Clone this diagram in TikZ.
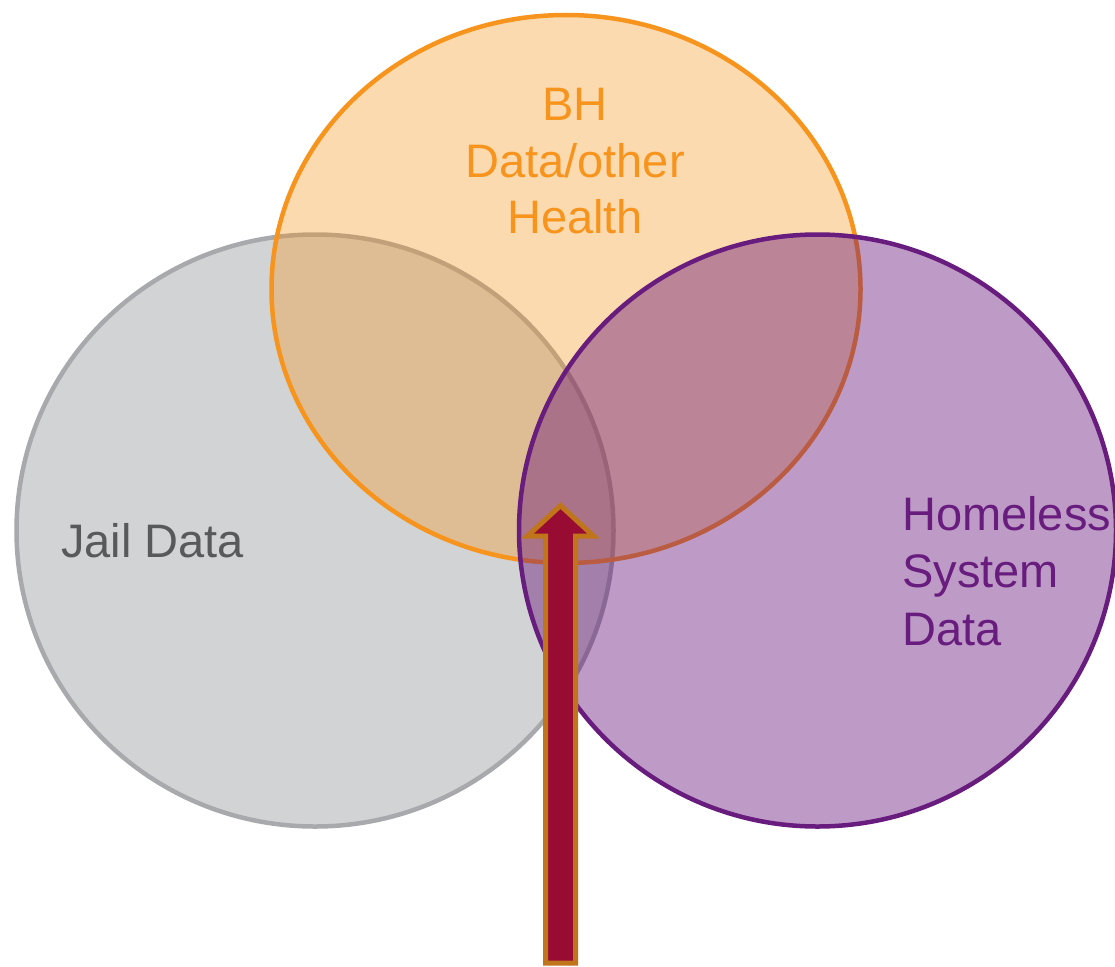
\documentclass[tikz,border=0pt]{standalone}
\usepackage{fontspec}
\setmainfont{Liberation Sans}
\usetikzlibrary{shapes.geometric}
\definecolor{grayfill}{RGB}{209,211,212}
\definecolor{grayline}{RGB}{167,169,172}
\definecolor{orangebase}{RGB}{247,148,29}
\definecolor{purplebase}{RGB}{100,15,118}
\definecolor{purpleline}{RGB}{104,28,126}
\definecolor{jailtext}{RGB}{88,89,91}
\definecolor{arrowfill}{RGB}{152,12,52}
\definecolor{arrowline}{RGB}{193,117,27}
\tikzset{
  setcircle/.style={ellipse, inner sep=0pt, outer sep=0pt, line width=4.5pt},
  label47/.style={inner sep=0pt, font=\fontsize{47}{56.5}\selectfont},
}
\begin{document}
\begin{tikzpicture}[x=1pt, y=-1pt]
\useasboundingbox (0,0) rectangle (1115,966);
% Jail Data
\node[setcircle, draw=grayline, fill=grayfill, minimum width=597pt, minimum height=592pt] (jail) at (315,530.5) {};
% BH Data
\node[setcircle, draw=orangebase, fill=orangebase, fill opacity=0.35, minimum width=589pt, minimum height=548pt] (bh) at (566,289) {};
% Homeless
\node[setcircle, draw=purpleline, fill=purplebase, fill opacity=0.42, minimum width=597pt, minimum height=592pt] (home) at (817.5,530.5) {};
% labels
\node[label47, text=orangebase, align=center, anchor=north] (bhtext) at (575,88) {BH\\Data/other\\Health};
\node[label47, text=jailtext, anchor=base west] (jailtext) at (61,557) {Jail Data};
\node[label47, text=purpleline, align=left, anchor=north west, font=\fontsize{47}{57.5}\selectfont] (hometext) at (902,496) {Homeless\\System\\Data};
% block arrow
\draw[line width=5pt, draw=arrowline, fill=arrowfill, line join=miter]
  (545.5,963) -- (545.5,536) -- (527.5,536) -- (560.5,505.5) -- (593.5,536) -- (575.5,536) -- (575.5,963) -- cycle;
\end{tikzpicture}
\end{document}
